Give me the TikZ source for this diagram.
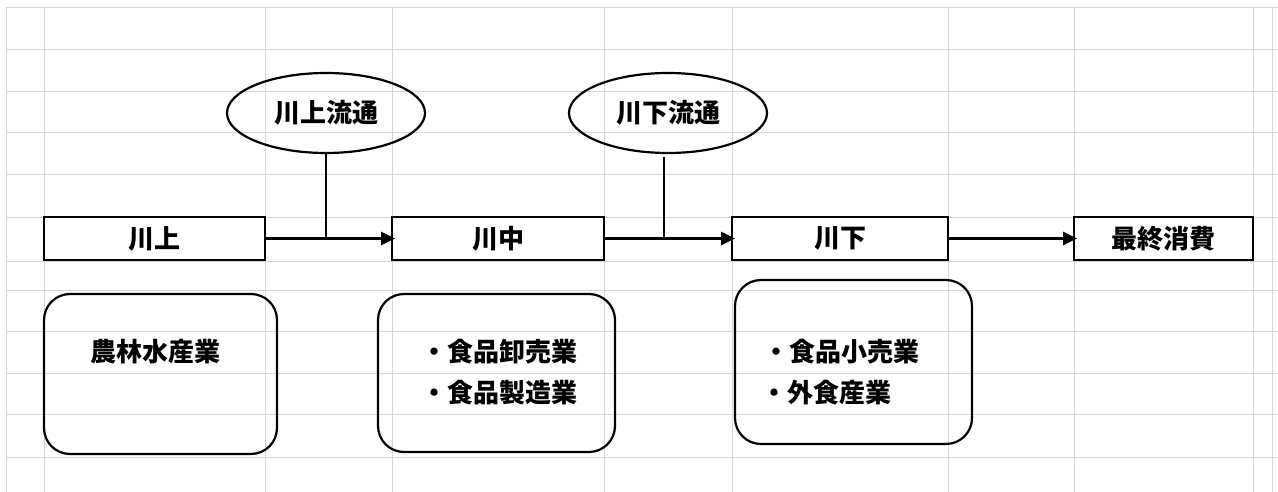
\documentclass[tikz,border=0pt]{standalone}
\usepackage{fontspec}
\setmainfont{Noto Sans CJK JP}
\usetikzlibrary{shapes.geometric,arrows.meta}
\definecolor{gridgray}{HTML}{D6D6D6}
\tikzset{
  jpfont/.style={font=\fontsize{26}{30}\selectfont\bfseries},
  gridline/.style={draw=gridgray, line width=1pt},
  stagebox/.style={draw=black, line width=2pt, fill=white, inner sep=0pt, jpfont},
  flowell/.style={ellipse, draw=black, line width=2.2pt, inner sep=0pt, minimum width=198pt, minimum height=80pt, jpfont},
  roundbox/.style={draw=black, line width=2.2pt, rounded corners=26pt, inner sep=0pt},
  itemtext/.style={inner sep=0pt, jpfont},
  flowarrow/.style={draw=black, line width=2.8pt, -{Triangle[length=14pt,width=13pt]}, shorten >=-4pt},
  stem/.style={draw=black, line width=2.8pt}
}
\begin{document}
\begin{tikzpicture}[x=1pt,y=-1pt]
\useasboundingbox (0,0) rectangle (1278,492);
% spreadsheet grid
\foreach \yy in {8,50,92,133,175,217,261,290,331,373,414,457}
  \draw[gridline] (6,\yy) -- (1278,\yy);
\foreach \xx in {6,44,265,392,604,732,948,1074,1253,1272}
  \draw[gridline] (\xx,8) -- (\xx,492);
% stage boxes
\node[stagebox, minimum width=221pt, minimum height=43pt] (kawakami) at (154.5,238.5) {川上};
\node[stagebox, minimum width=212pt, minimum height=43pt] (kawanaka) at (498,238.5) {川中};
\node[stagebox, minimum width=216pt, minimum height=43pt] (kawashimo) at (840,238.5) {川下};
\node[stagebox, minimum width=179pt, minimum height=43pt] (consume) at (1163.5,238.5) {最終消費};
% arrows
\draw[flowarrow] (kawakami.east) -- (kawanaka.west);
\draw[flowarrow] (kawanaka.east) -- (kawashimo.west);
\draw[flowarrow] (kawashimo.east) -- (consume.west);
% ellipses
\node[flowell] (upflow) at (326,113) {川上流通};
\node[flowell] (downflow) at (668,113) {川下流通};
\draw[stem] (upflow.south) -- (upflow.south |- kawakami.east);
\coordinate (downtop) at ([xshift=-4pt,yshift=-3pt]downflow.south);
\draw[stem] (downtop) -- (downtop |- kawanaka.east);
% rounded boxes
\node[roundbox, minimum width=233pt, minimum height=160pt] (rb1) at (160.5,374) {};
\node[roundbox, minimum width=237pt, minimum height=158pt] (rb2) at (496.5,373) {};
\node[roundbox, minimum width=237pt, minimum height=164pt] (rb3) at (853.5,362) {};
% texts
\node[itemtext] (t1) at (155.5,352) {農林水産業};
\node[itemtext, anchor=west] (t2a) at (421,352) {・食品卸売業};
\node[itemtext, anchor=west] (t2b) at (421,393) {・食品製造業};
\node[itemtext, anchor=west] (t3a) at (763,352) {・食品小売業};
\node[itemtext, anchor=west] (t3b) at (761,393) {・外食産業};
\end{tikzpicture}
\end{document}
